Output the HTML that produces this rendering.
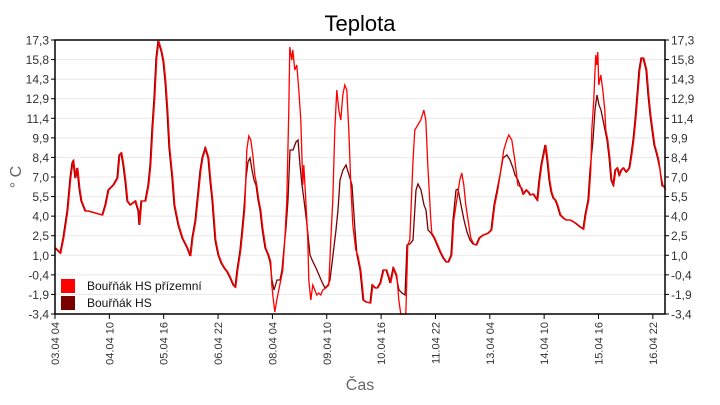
<!DOCTYPE html>
<html><head><meta charset="utf-8"><style>
body{margin:0;background:#fff;}
svg text{font-family:"Liberation Sans",Arial,sans-serif;fill:#333;}
</style></head><body>
<svg id="s" width="720" height="400" xmlns="http://www.w3.org/2000/svg">
<rect width="720" height="400" fill="#fff"/>
<text x="360" y="31" font-size="22" text-anchor="middle" style="fill:#000">Teplota</text>
<g id="grid"></g>
<g id="lab"></g>
<polyline id="dark" fill="none" stroke="#7a0000" stroke-width="1.3"/>
<polyline id="red" fill="none" stroke="#ff0000" stroke-width="1.3"/>
<rect x="55" y="40" width="610" height="274" fill="none" stroke="#000" stroke-width="1.5"/>
<rect x="61" y="279" width="14" height="14" fill="#ff0000"/>
<rect x="61" y="296" width="14" height="14" fill="#7a0000"/>
<text x="87" y="290" font-size="12" style="fill:#111">Bouřňák HS přízemní</text>
<text x="87" y="307" font-size="12" style="fill:#111">Bouřňák HS</text>
<text x="360" y="390" font-size="16" text-anchor="middle" style="fill:#666">Čas</text>
<text transform="translate(21,177) rotate(-90)" font-size="16" text-anchor="middle" style="fill:#666">° C</text>
</svg>
<script>
var NS="http://www.w3.org/2000/svg",g=document.getElementById('grid'),lab=document.getElementById('lab');
function el(t,a,p,txt){var e=document.createElementNS(NS,t);for(var k in a)e.setAttribute(k,a[k]);if(txt)e.textContent=txt;p.appendChild(e);return e;}
var yl=["17,3","15,8","14,3","12,9","11,4","9,9","8,4","7,0","5,5","4,0","2,5","1,0","-0,4","-1,9","-3,4"];
for(var i=0;i<15;i++){var y=40+i*274/14;
 if(i>0&&i<14)el('line',{x1:55,x2:665,y1:y,y2:y,stroke:'#e8e8e8','stroke-width':1},g);
 el('line',{x1:51,x2:55,y1:y,y2:y,stroke:'#000'},g);el('line',{x1:665,x2:669,y1:y,y2:y,stroke:'#000'},g);
 el('text',{x:49,y:y+4.5,'font-size':12,'text-anchor':'end'},lab,yl[i]);
 el('text',{x:671,y:y+4.5,'font-size':12},lab,yl[i]);}
var xl=["03.04 04","04.04 10","05.04 16","06.04 22","08.04 04","09.04 10","10.04 16","11.04 22","13.04 04","14.04 10","15.04 16","16.04 22"];
for(var i=0;i<12;i++){var x=55+i*54.35;
 el('line',{x1:x,x2:x,y1:314,y2:319,stroke:'#000'},g);
 el('text',{transform:'translate('+(x+4)+',322) rotate(-90)','font-size':11,'text-anchor':'end'},lab,xl[i]);}
var d=[[55,248],[60,253],[63,238],[67,211],[70,178],[72,163],[73,161],[75,178],[77,168],[79,188],[81,201],[85,211],[88,211],[95,213],[102,215],[105,205],[108,190],[113,185],[117,178],[119,155],[121,153],[123,165],[125,181],[127,201],[130,205],[135,201],[138,211],[139,225],[141,201],[145,201],[148,185],[150,165],[152,128],[154,98],[156,58],[158,41],[161,51],[163,61],[165,81],[167,111],[169,148],[172,178],[174,205],[178,225],[182,238],[187,248],[190,256],[192,238],[195,221],[198,191],[200,171],[202,158],[205,148],[208,158],[210,181],[212,200],[215,240],[218,255],[221,263],[224,268],[227,272],[230,278],[233,285],[235,287],[237,270],[240,250],[242,230],[244,208],[246,178],[248,162],[250,158],[252,170],[254,180],[256,185],[258,200],[260,210],[262,228],[265,248],[268,255],[270,262],[272,280],[274,290],[277,280],[280,280],[282,270],[284,248],[286,228],[288,200],[290,150],[293,150],[296,142],[298,140],[300,165],[302,185],[304,200],[307,225],[310,255],[313,262],[316,268],[319,275],[322,282],[325,288],[328,285],[330,280],[333,255],[336,230],[338,210],[340,180],[343,170],[346,165],[349,175],[352,185],[355,230],[357,255],[360,270],[363,300],[366,302],[370,303],[372,285],[375,288],[377,288],[380,283],[383,270],[386,270],[388,276],[390,283],[393,268],[396,275],[399,290],[402,293],[405,295],[407,245],[410,244],[413,240],[416,190],[418,184],[421,190],[424,205],[426,210],[428,230],[431,233],[434,238],[437,245],[440,252],[443,258],[446,262],[448,262],[451,255],[453,220],[456,190],[458,189],[461,205],[464,220],[467,232],[470,240],[473,244],[476,245],[479,238],[483,235],[486,234],[488,233],[491,230],[494,205],[497,190],[500,175],[503,158],[507,155],[510,160],[513,168],[515,175],[518,180],[521,188],[523,194],[526,190],[528,192],[530,195],[533,194],[535,197],[537,200],[539,180],[541,165],[543,155],[545,145],[547,160],[549,180],[551,192],[553,198],[555,200],[557,205],[560,215],[563,218],[566,220],[570,220],[575,223],[580,227],[583,229],[585,215],[588,200],[590,170],[593,140],[595,110],[597,95],[599,105],[601,110],[603,120],[605,130],[607,140],[609,157],[611,180],[613,185],[615,170],[617,168],[619,175],[621,170],[623,168],[626,172],[629,168],[631,155],[633,140],[635,120],[637,95],[639,70],[641,58],[643,58],[646,70],[648,95],[650,115],[652,130],[654,145],[656,152],[658,160],[660,170],[662,186],[665,186]];
var ov=[[[245,255],[[246,150],[248,136],[250,140],[252,155],[254,175]]],
[[271,277],[[271,285],[272,295],[274,312],[276,300]]],
[[283,300],[[284,240],[286,200],[288,110],[289,47],[291,60],[292,50],[294,70],[296,65],[298,90],[300,120]]],
[[303,322],[[303,165],[305,200],[307,240],[308,280],[310,300],[312,285],[314,290],[316,295],[318,293],[320,295],[322,290]]],
[[330,355],[[330,240],[332,200],[334,130],[336,90],[338,110],[340,120],[342,95],[344,85],[346,90],[348,130],[350,185],[352,225],[355,250]]],
[[398,430],[[398,300],[400,320],[403,318],[405,325],[407,245],[409,240],[412,165],[414,130],[417,125],[420,120],[423,110],[425,120],[427,165],[430,220]]],
[[456,470],[[456,200],[459,180],[461,173],[463,185],[465,205],[468,225],[470,238]]],
[[500,518],[[500,170],[503,150],[506,140],[508,135],[511,140],[514,160],[517,185]]],
[[591,605],[[591,130],[593,100],[594,75],[595,55],[596,65],[597,52],[598,85],[600,75],[602,90],[604,110],[605,130]]],
[[660,665],[[660,175],[662,185],[665,190]]]];
var r=d.filter(function(p){return !ov.some(function(o){return p[0]>=o[0][0]&&p[0]<=o[0][1];});});
ov.forEach(function(o){r=r.concat(o[1]);});r.sort(function(a,b){return a[0]-b[0];});
function clip(a){return a.map(function(p){return p[0]+','+Math.min(314,p[1]);}).join(' ');}
document.getElementById('dark').setAttribute('points',clip(d));
document.getElementById('red').setAttribute('points',clip(r.map(function(p){return [p[0]+0.8,p[1]];})));
</script>
</body></html>
